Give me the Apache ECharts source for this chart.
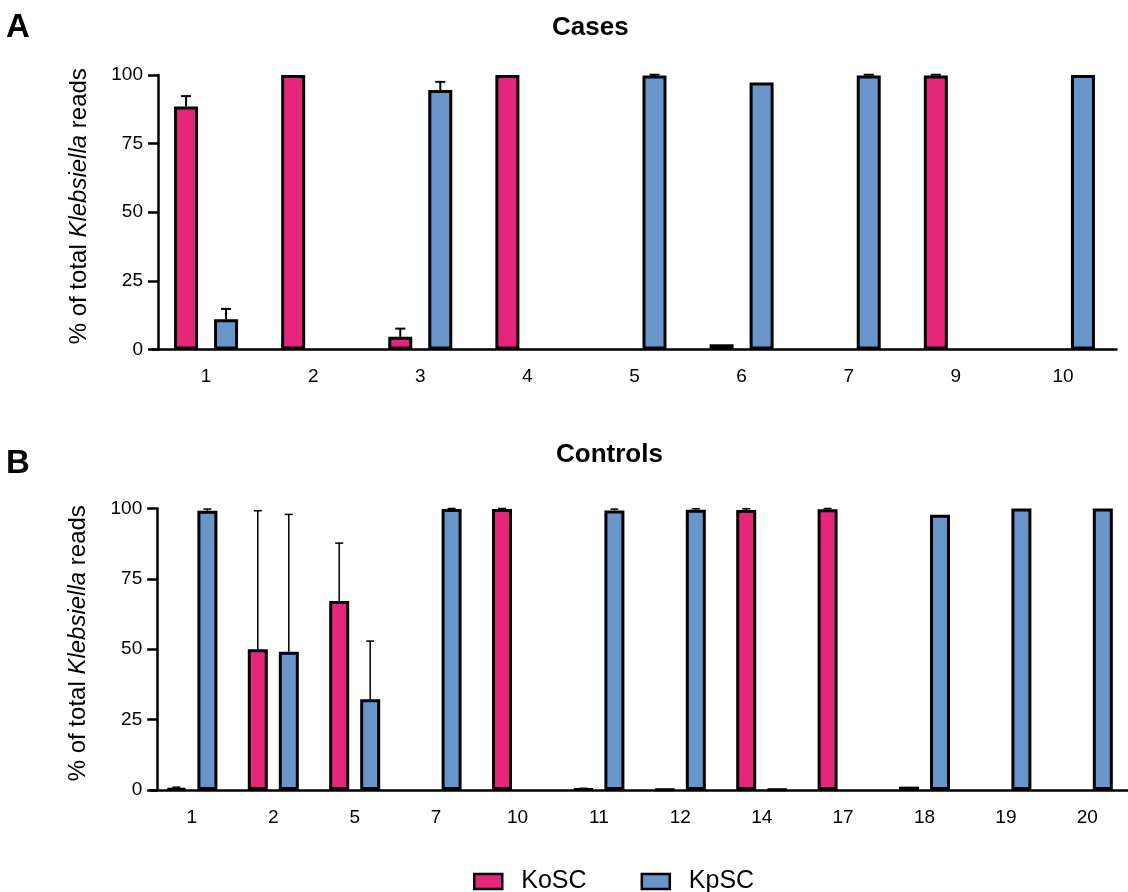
<!DOCTYPE html>
<html>
<head>
<meta charset="utf-8">
<script src="https://cdn.jsdelivr.net/npm/echarts@6/dist/echarts.min.js"></script>
<style>
html,body{margin:0;padding:0;background:#fff;}
#chart{width:1128px;height:892px;}
</style>
</head>
<body>
<div id="chart"></div>
<script>
// ---- Data ----
const casesCats = ['1','2','3','4','5','6','7','9','10'];
const casesKo    = [88.5, 100, 4.6, 100, 0, 1.9, 0, 99.8, 0];
const casesKoErr = [3.8, 0, 3.0, 0, 0, 0, 0, 0.3, 0];
const casesKp    = [11.0, 0, 94.5, 0, 99.8, 97.3, 99.8, 0, 100];
const casesKpErr = [3.8, 0, 3.0, 0, 0.3, 0, 0.3, 0, 0];

const ctrlCats  = ['1','2','5','7','10','11','12','14','17','18','19','20'];
const ctrlKo    = [0.6, 50.0, 67.1, 0, 99.8, 0.3, 0.1, 99.5, 99.7, 1.2, 0, 0];
const ctrlKoErr = [0.4, 49.2, 20.6, 0, 0.2, 0.3, 0, 0.4, 0.3, 0, 0, 0];
const ctrlKp    = [99.2, 49.1, 32.2, 99.8, 0, 99.3, 99.6, 0.2, 0, 97.8, 100, 100];
const ctrlKpErr = [0.6, 48.8, 20.7, 0.2, 0, 0.5, 0.3, 0, 0, 0, 0, 0];

const seriesNames = ['KoSC', 'KpSC'];
const colors = ['#E5267B', '#6896CA'];

// ---- Chart ----
const FONT = 'Liberation Sans, Arial, sans-serif';
const chart = echarts.init(document.getElementById('chart'), null, {renderer: 'canvas'});

function errSeries(xi, yi, cats, vals, errs, offset, lw, cap) {
  return {
    type: 'custom', xAxisIndex: xi, yAxisIndex: yi, z: 5, silent: true,
    data: cats.map((c, i) => [i, vals[i], errs[i]]),
    renderItem: function (params, api) {
      const e = api.value(2);
      if (!e) return null;
      const x = api.value(0), v = api.value(1);
      const b = api.coord([x, v]);
      const t = api.coord([x, v + e]);
      const cx = b[0] + offset;
      const st = {stroke: '#000', lineWidth: lw};
      return {type: 'group', children: [
        {type: 'line', shape: {x1: cx, y1: b[1], x2: cx, y2: t[1]}, style: st},
        {type: 'line', shape: {x1: cx - cap, y1: t[1], x2: cx + cap, y2: t[1]}, style: st}
      ]};
    }
  };
}

function xAxisDef(gi, cats) {
  return {
    type: 'category', gridIndex: gi, data: cats,
    axisLine: {lineStyle: {color: '#000', width: 2.5}},
    axisTick: {alignWithLabel: true, length: 10, lineStyle: {color: '#000', width: 2.5}},
    axisLabel: {color: '#000', fontSize: 19, fontFamily: FONT, margin: 18}
  };
}
function yAxisDef(gi, off) {
  return {
    type: 'value', gridIndex: gi, min: 0, max: 100, interval: 25, offset: off,
    axisLine: {show: true, lineStyle: {color: '#000', width: 2.5}},
    axisTick: {show: true, length: 10, lineStyle: {color: '#000', width: 2.5}},
    axisLabel: {color: '#000', fontSize: 19, fontFamily: FONT, margin: 15},
    splitLine: {show: false},
    name: '{n|% of total }{i|Klebsiella}{n| reads}',
    nameLocation: 'middle', nameGap: 67, nameRotate: 90,
    nameTextStyle: {
      padding: [0, 0, 0, 12],
      rich: {
        n: {fontSize: 24, fontFamily: FONT, color: '#000'},
        i: {fontSize: 24, fontFamily: FONT, color: '#000', fontStyle: 'italic'}
      }
    }
  };
}
function barSeries(xi, yi, name, color, vals, bw, gap) {
  return {
    type: 'bar', name: name, xAxisIndex: xi, yAxisIndex: yi,
    data: vals.map(v => (v === 0 ? '-' : v)),
    barWidth: bw, barGap: gap,
    itemStyle: {color: color, borderColor: '#000', borderWidth: 3}
  };
}

const bwA = 24, distA = 40;
const bwB = 20, distB = 31;
const gapA = ((distA - bwA) / bwA * 100) + '%';
const gapB = ((distB - bwB) / bwB * 100) + '%';

const titleStyle = {fontWeight: 'bold', fontFamily: FONT, color: '#000'};
const option = {
  animation: false,
  backgroundColor: '#fff',
  title: [
    {text: 'A', left: 1, top: 6, textStyle: Object.assign({fontSize: 33}, titleStyle)},
    {text: 'Cases', left: 547, top: 10, textStyle: Object.assign({fontSize: 26}, titleStyle)},
    {text: 'B', left: 1, top: 442, textStyle: Object.assign({fontSize: 33}, titleStyle)},
    {text: 'Controls', left: 551, top: 437, textStyle: Object.assign({fontSize: 26}, titleStyle)}
  ],
  legend: {
    data: seriesNames, left: 468, top: 864,
    icon: 'rect',
    itemWidth: 28, itemHeight: 15, itemGap: 54,
    itemStyle: {borderColor: '#000', borderWidth: 2.5},
    textStyle: {fontSize: 25, fontFamily: FONT, color: '#000', padding: [0, 0, 0, 14]}
  },
  grid: [
    {left: 152.5, top: 75, width: 964, height: 274.5},
    {left: 151.2, top: 508.5, width: 991, height: 281.5}
  ],
  xAxis: [xAxisDef(0, casesCats), xAxisDef(1, ctrlCats)],
  yAxis: [yAxisDef(0, -5.5), yAxisDef(1, -6)],
  series: [
    barSeries(0, 0, 'KoSC', colors[0], casesKo, bwA, gapA),
    barSeries(0, 0, 'KpSC', colors[1], casesKp, bwA, gapA),
    errSeries(0, 0, casesCats, casesKo, casesKoErr, -distA / 2, 2, 5),
    errSeries(0, 0, casesCats, casesKp, casesKpErr, distA / 2, 2, 5),
    barSeries(1, 1, 'KoSC', colors[0], ctrlKo, bwB, gapB),
    barSeries(1, 1, 'KpSC', colors[1], ctrlKp, bwB, gapB),
    errSeries(1, 1, ctrlCats, ctrlKo, ctrlKoErr, -distB / 2, 1.5, 4),
    errSeries(1, 1, ctrlCats, ctrlKp, ctrlKpErr, distB / 2, 1.5, 4)
  ]
};
chart.setOption(option);
</script>
</body>
</html>
